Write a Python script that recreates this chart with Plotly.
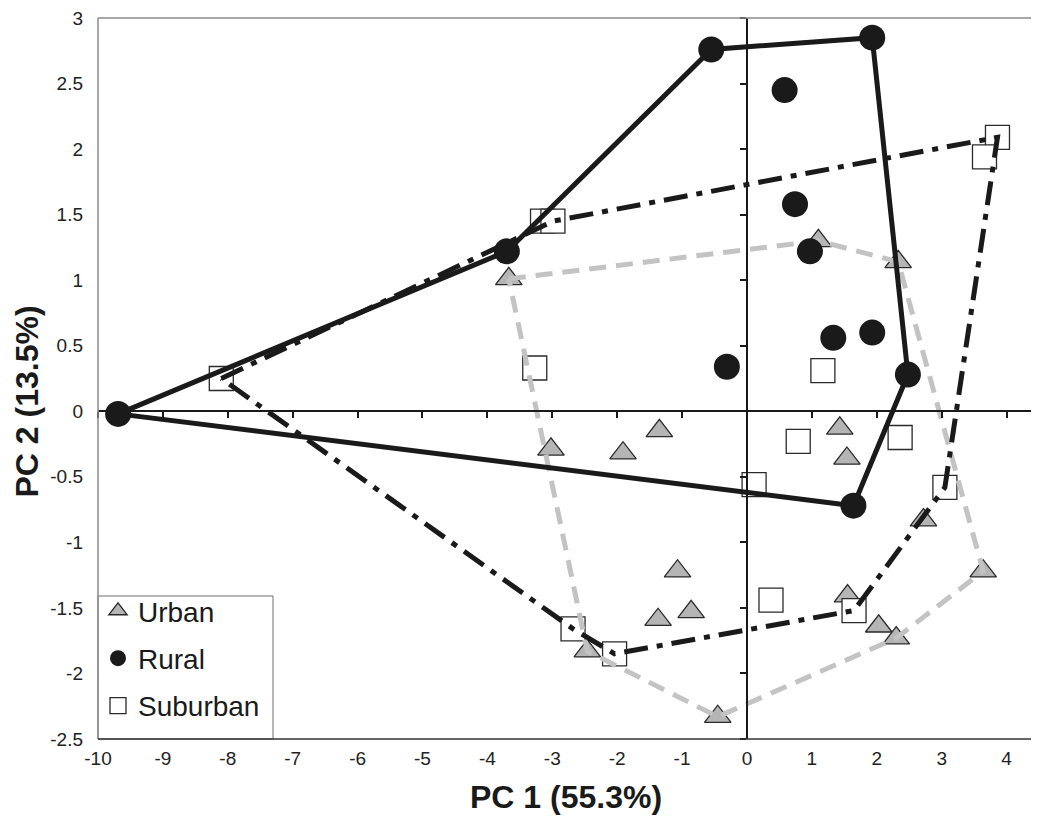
import plotly.graph_objects as go

# ---------------- data ----------------
urban_x = [-3.67, -3.02, -1.91, -1.35, -1.07, -0.86, -1.37, -2.46, -0.45,
           1.10, 2.33, 1.43, 1.54, 2.72, 3.64, 1.55, 2.03, 2.30]
urban_y = [1.01, -0.29, -0.32, -0.15, -1.22, -1.53, -1.59, -1.83, -2.33,
           1.30, 1.14, -0.13, -0.36, -0.83, -1.22, -1.41, -1.64, -1.73]

rural_x = [-9.69, -3.70, -0.55, 1.93, 0.58, 0.74, 0.97, 1.33, 1.93, -0.31, 2.48, 1.64]
rural_y = [-0.02, 1.22, 2.76, 2.85, 2.45, 1.58, 1.22, 0.56, 0.60, 0.34, 0.28, -0.72]

suburban_x = [-8.10, -3.15, -2.99, -3.27, 3.86, 3.66, 1.17, 0.79, 2.36, 0.11,
              3.05, 0.37, 1.65, -2.68, -2.04]
suburban_y = [0.25, 1.45, 1.45, 0.33, 2.09, 1.94, 0.31, -0.23, -0.20, -0.56,
              -0.58, -1.44, -1.52, -1.66, -1.85]

# convex hulls as indices into the series above
urban_hull = [0, 9, 10, 14, 17, 8, 7, 0]
rural_hull = [0, 1, 2, 3, 10, 11, 0]
suburban_hull = [0, 2, 4, 10, 12, 14, 13, 0]

x_range = [-10, 4.5]
y_range = [-2.5, 3]
x_ticks = [-10, -9, -8, -7, -6, -5, -4, -3, -2, -1, 0, 1, 2, 3, 4]
x_tick_text = ["-10", "-9", "-8", "-7", "-6", "-5", "-4", "-3", "-2", "-1",
               "0", "1", "2", "3", "4"]
y_ticks = [-2.5, -2, -1.5, -1, -0.5, 0, 0.5, 1, 1.5, 2, 2.5, 3]
y_tick_text = ["-2.5", "-2", "-1.5", "-1", "-0.5", "0", "0.5", "1", "1.5",
               "2", "2.5", "3"]

x_title = "PC 1 (55.3%)"
y_title = "PC 2 (13.5%)"

# ---------------- styles ----------------
FONT = "Liberation Sans, Arial, Helvetica, sans-serif"
BLACK = "#1a1a1a"
GREY_LINE = "#c3c3c3"
TRI_FILL = "#b5b5b5"


def pick(vals, idx):
    return [vals[i] for i in idx]


fig = go.Figure()

# Urban markers
fig.add_trace(go.Scatter(
    x=urban_x, y=urban_y, mode="markers", name="Urban",
    legendgroup="urban", legendrank=1,
    marker=dict(symbol="triangle-up", size=23, color=TRI_FILL,
                line=dict(color="#2a2a2a", width=1.3)),
))
# Suburban markers
fig.add_trace(go.Scatter(
    x=suburban_x, y=suburban_y, mode="markers", name="Suburban",
    legendgroup="suburban", legendrank=3,
    marker=dict(symbol="square", size=24, color="white",
                line=dict(color="#2a2a2a", width=1.3)),
))
# Hulls
fig.add_trace(go.Scatter(
    x=pick(urban_x, urban_hull), y=pick(urban_y, urban_hull), mode="lines",
    showlegend=False, hoverinfo="skip",
    line=dict(color=GREY_LINE, width=5, dash="17px,10px"),
))
fig.add_trace(go.Scatter(
    x=pick(suburban_x, suburban_hull), y=pick(suburban_y, suburban_hull), mode="lines",
    showlegend=False, hoverinfo="skip",
    line=dict(color=BLACK, width=5, dash="24px,9px,6px,9px"),
))
fig.add_trace(go.Scatter(
    x=pick(rural_x, rural_hull), y=pick(rural_y, rural_hull), mode="lines",
    showlegend=False, hoverinfo="skip",
    line=dict(color=BLACK, width=5),
))
# Rural markers
fig.add_trace(go.Scatter(
    x=rural_x, y=rural_y, mode="markers", name="Rural",
    legendgroup="rural", legendrank=2,
    marker=dict(symbol="circle", size=26, color=BLACK,
                line=dict(color=BLACK, width=0)),
))
# helper trace for the crossing axes through the origin
fig.add_trace(go.Scatter(x=[None], y=[None], xaxis="x2", yaxis="y2",
                         showlegend=False, hoverinfo="skip"))

x_zero_pos = (0 - x_range[0]) / (x_range[1] - x_range[0])
y_zero_pos = (0 - y_range[0]) / (y_range[1] - y_range[0])

# page body adds an 8px margin; size the figure to fit the 1039x816 window
W, H = 1031, 808
ML, MR, MT, MB = 90, 0, 5, 77
PW, PH = W - ML - MR, H - MT - MB

# legend frame size (px)
LEG_W, LEG_H = 175, 144

fig.update_layout(
    width=W, height=H,
    margin=dict(l=ML, r=MR, t=MT, b=MB),
    paper_bgcolor="white", plot_bgcolor="white",
    font=dict(family=FONT, color="#1a1a1a"),
    showlegend=True,
    xaxis=dict(range=x_range, tickvals=x_ticks, ticktext=x_tick_text,
               showgrid=False, zeroline=False, showline=False, ticks="",
               tickfont=dict(size=19, color="#222"), ticklabelstandoff=6,
               ticklabeloverflow="allow", fixedrange=True),
    yaxis=dict(range=y_range, tickvals=y_ticks, ticktext=y_tick_text,
               showgrid=False, zeroline=False, showline=False, ticks="",
               tickfont=dict(size=19, color="#222"), ticklabelstandoff=14,
               ticklabeloverflow="allow", fixedrange=True),
    xaxis2=dict(overlaying="x", anchor="free", position=y_zero_pos, side="bottom",
                range=x_range, tickvals=x_ticks, showticklabels=False,
                ticks="outside", ticklen=6, tickwidth=1.5, tickcolor=BLACK,
                showline=True, linecolor=BLACK, linewidth=2,
                showgrid=False, zeroline=False, fixedrange=True),
    yaxis2=dict(overlaying="y", anchor="free", position=x_zero_pos, side="left",
                range=y_range, tickvals=y_ticks, showticklabels=False,
                ticks="outside", ticklen=6, tickwidth=1.5, tickcolor=BLACK,
                showline=True, linecolor=BLACK, linewidth=2,
                showgrid=False, zeroline=False, fixedrange=True),
    legend=dict(x=0, y=8 / PH, xanchor="left", yanchor="bottom",
                bgcolor="rgba(0,0,0,0)", borderwidth=0,
                font=dict(size=28, color="#1a1a1a", family=FONT),
                traceorder="grouped", tracegroupgap=8, itemsizing="trace"),
    shapes=[
        # legend frame (white box behind the legend entries)
        dict(type="rect", xref="paper", yref="paper", x0=0, x1=LEG_W / PW,
             y0=0, y1=LEG_H / PH, layer="above", fillcolor="white",
             line=dict(color="#6e6e6e", width=1)),
        dict(type="line", xref="paper", yref="paper", x0=0, x1=1, y0=1, y1=1,
             line=dict(color="#8a8a8a", width=1.5)),
        dict(type="line", xref="paper", yref="paper", x0=0, x1=0, y0=0, y1=1,
             line=dict(color="#8a8a8a", width=1.5)),
        dict(type="line", xref="paper", yref="paper", x0=0, x1=1, y0=0, y1=0,
             line=dict(color="#333333", width=1.5)),
    ],
    annotations=[
        dict(text="<b>" + x_title + "</b>", xref="paper", yref="paper",
             x=0.497, y=-0.081, xanchor="center", yanchor="middle",
             showarrow=False, font=dict(size=32, family=FONT, color="#1a1a1a")),
        dict(text="<b>" + y_title + "</b>", xref="paper", yref="paper",
             x=-0.0755, y=0.468, xanchor="center", yanchor="middle",
             textangle=-90, showarrow=False,
             font=dict(size=32, family=FONT, color="#1a1a1a")),
    ],
)

fig.write_html("out.html")
